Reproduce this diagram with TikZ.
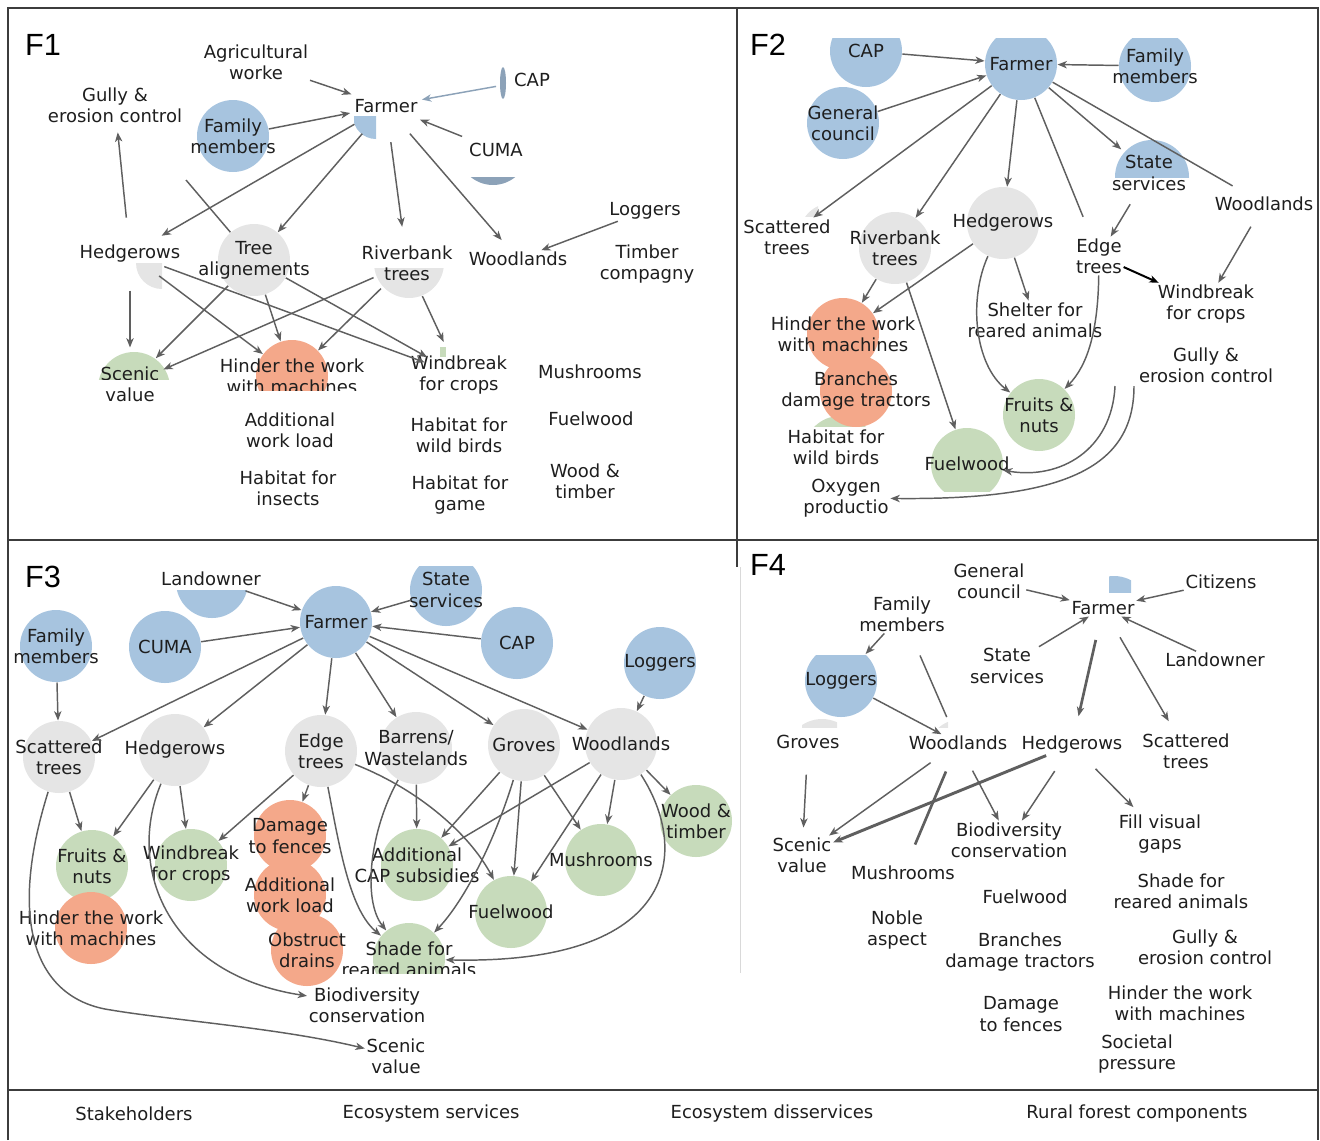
\documentclass[tikz,border=0pt]{standalone}
\usepackage{fontspec}
\setmainfont{DejaVu Sans}
\newfontfamily\panelfont{Liberation Sans}
\usetikzlibrary{arrows.meta}

\definecolor{stakec}{RGB}{167,196,223}
\definecolor{servc}{RGB}{199,219,187}
\definecolor{dservc}{RGB}{244,168,138}
\definecolor{ruralc}{RGB}{229,229,229}
\definecolor{linec}{RGB}{95,95,95}
\definecolor{capc}{RGB}{140,162,184}
\definecolor{txtc}{RGB}{30,30,30}
\definecolor{framec}{RGB}{60,60,60}

\tikzset{every picture/.style={line width=0.75pt}}
\tikzset{
  lbl/.style={font=\fontsize{13.5}{16}\selectfont, text=txtc, align=center, inner sep=1pt},
  nd/.style={circle, minimum size=54pt, inner sep=0pt, label={[lbl]center:{#1}}},
  stake/.style={nd={#1}, fill=stakec},
  serv/.style={nd={#1}, fill=servc},
  dserv/.style={nd={#1}, fill=dservc},
  rural/.style={nd={#1}, fill=ruralc},
  ring/.style={nd={#1}},
  arr/.style={draw=linec, line width=1.1pt, -{Stealth[length=7pt,width=5.5pt,inset=2pt]}},
  link/.style={draw=linec, line width=1.1pt},
  panel/.style={font=\panelfont\fontsize{23}{25}\selectfont, text=black, inner sep=0pt},
}

\begin{document}
\begin{tikzpicture}[x=0.75pt,y=0.75pt,yscale=-1,xscale=1]
\useasboundingbox (0,0) rectangle (1320,1140);

%Frame
\draw[framec, line width=1.5pt] (8,1140) -- (8,8) -- (1318,8) -- (1318,1140);
\draw[framec, line width=1.5pt] (8,540) -- (1318,540);
\draw[framec, line width=1.5pt] (8,1090) -- (1318,1090);
\draw[framec, line width=1pt] (737,8) -- (737,567);
\draw[black!15, line width=0.6pt] (740,567) -- (740,973);

%%%%%%%%%%%%%%%% F1
\node[panel] (f1lab) at (43,45) {F1};

%Shape: fragments
\begin{scope}
\clip (354,116) rectangle (376,140);
\fill[stakec] (376,116) circle (23);
\end{scope}
\fill[capc] (503,83) ellipse (3 and 16);
\begin{scope}
\clip (450,177) rectangle (540,190);
\fill[capc] (493,150) circle (35);
\end{scope}
\begin{scope}
\clip (136,263) rectangle (162,290);
\fill[ruralc] (162,263) circle (26);
\end{scope}
\begin{scope}
\clip (360,268) rectangle (450,300);
\fill[ruralc] (409,263) circle (35);
\end{scope}
\begin{scope}
\clip (98,352) rectangle (170,379);
\fill[servc] (134,388) circle (36);
\end{scope}
\fill[servc] (440,347) rectangle (446,357);

%Shape: Circle
\node[stake={Family\\members}] (f1fam) at (233,136) {};
\node[rural={Tree\\alignements}] (f1tree) at (254,260) {};
\node[ring=Farmer] (f1farmer) at (386,106) {};
\node[ring=CAP] (f1cap) at (532,80) {};
\node[ring=CUMA] (f1cuma) at (496,150) {};
\node[ring={Riverbank\\trees}] (f1river) at (407,263) {};
\node[ring=Hedgerows] (f1hedge) at (130,254) {};
\begin{scope}
\clip (60,330) rectangle (200,379) (60,383) rectangle (200,420);
\node[ring={Scenic\\value}] (f1scenic) at (130,384) {};
\end{scope}
\begin{scope}
\clip (200,320) rectangle (400,390);
\node[dserv={Hinder the work\\with machines}] (f1hinder) at (292,376) {};
\end{scope}
\node[ring={Windbreak\\for crops}] (f1wind) at (459,375) {};

% Text Node
\node[lbl] (f1agri) at (256,62) {Agricultural\\worke};
\node[lbl] (f1gully) at (115,105) {Gully \&\\erosion control};
\node[lbl] (f1wood) at (518,259) {Woodlands};
\node[lbl] (f1log) at (645,211) {Loggers};
\node[lbl] (f1timber) at (647,264) {Timber\\compagny};
\node[lbl] (f1mush) at (590,372) {Mushrooms};
\node[lbl] (f1addwl) at (290,430) {Additional\\work load};
\node[lbl] (f1birds) at (459,435) {Habitat for\\wild birds};
\node[lbl] (f1fuel) at (591,419) {Fuelwood};
\node[lbl] (f1insect) at (288,488) {Habitat for\\insects};
\node[lbl] (f1game) at (460,495) {Habitat for\\game};
\node[lbl] (f1woodt) at (585,481) {Wood \&\\timber};
\coordinate (f1stub) at (186,180);

%Straight Lines
\draw[arr] (f1agri) -- (f1farmer);
\draw[arr, draw=capc] (f1cap) -- (f1farmer);
\draw[arr] (f1cuma) -- (f1farmer);
\draw[arr] (f1fam) -- (f1farmer);
\draw[arr] (f1farmer) -- (f1hedge);
\draw[arr] (f1farmer) -- (f1tree);
\draw[arr] (f1farmer) -- (f1river);
\draw[arr, shorten >=10pt] (f1farmer) -- (f1wood);
\draw[arr] (f1log) -- (f1wood);
\draw[arr, shorten >=6pt] (f1hedge) -- (f1gully);
\draw[link] (f1tree) -- (f1stub);
\foreach \s in {hedge,tree,river}{
  \draw[arr] (f1\s) -- (f1scenic);
  \draw[arr] (f1\s) -- (f1hinder);
  \draw[arr] (f1\s) -- (f1wind);
}

%%%%%%%%%%%%%%%% F2
\node[panel] (f2lab) at (768,45) {F2};

%Shape: fragments
\begin{scope}
\clip (1100,130) rectangle (1200,177);
\fill[stakec] (1152,177) circle (37);
\end{scope}
\begin{scope}
\clip (800,410) rectangle (880,426);
\fill[servc] (840,452) circle (36);
\end{scope}
\begin{scope}
\clip (800,204) rectangle (818,216);
\fill[ruralc] (832,236) circle (33);
\end{scope}

%Shape: Circle
\begin{scope}
\clip (740,38) rectangle (1318,200);
\node[stake=CAP] (f2cap) at (866,51) {};
\node[stake=Farmer] (f2farmer) at (1021,64) {};
\node[stake={Family\\members}] (f2fam) at (1155,66) {};
\end{scope}
\node[stake={General\\council}] (f2gen) at (843,123) {};
\node[ring={State\\services}] (f2state) at (1149,173) {};
\node[rural={Riverbank\\trees}] (f2river) at (895,248) {};
\node[rural=Hedgerows] (f2hedge) at (1003,223) {};
\node[dserv={Hinder the work\\with machines}] (f2hinder) at (843,334) {};
\node[dserv={Branches\\damage tractors}] (f2branch) at (856,391) {};
\node[serv={Fruits \&\\nuts}] (f2fruit) at (1039,415) {};
\begin{scope}
\clip (900,420) rectangle (1040,491);
\node[serv=Fuelwood] (f2fuel) at (967,464) {};
\end{scope}

% Text Node
\node[lbl] (f2scat) at (787,237) {Scattered\\trees};
\node[lbl] (f2wood) at (1264,204) {Woodlands};
\node[lbl] (f2edge) at (1099,256) {Edge\\trees};
\node[lbl] (f2wind) at (1206,304) {Windbreak\\for crops};
\node[lbl] (f2shelter) at (1035,320) {Shelter for\\reared animals};
\node[lbl] (f2gully) at (1206,365) {Gully \&\\erosion control};
\node[lbl] (f2birds) at (836,447) {Habitat for\\wild birds};
\node[lbl] (f2oxy) at (846,498) {Oxygen\\productio};
\coordinate (f2s1) at (1115,386);
\coordinate (f2s2) at (1134,386);

%Straight Lines
\draw[arr] (f2cap) -- (f2farmer);
\draw[arr] (f2gen) -- (f2farmer);
\draw[arr] (f2fam) -- (f2farmer);
\draw[arr] (f2farmer) -- (f2scat);
\draw[arr] (f2farmer) -- (f2river);
\draw[arr] (f2farmer) -- (f2hedge);
\draw[link, shorten >=16pt] (f2farmer) -- (f2edge);
\draw[arr] (f2farmer) -- (f2state);
\draw[link, shorten >=14pt] (f2farmer) -- (f2wood);
\draw[arr] (f2state) -- (f2edge);
\draw[arr, shorten <=12pt] (f2wood) -- (f2wind);
\draw[arr, draw=black, line width=1.5pt] (f2edge) -- (f2wind);
\draw[arr] (f2river) -- (f2hinder);
\draw[arr] (f2hedge) -- (f2hinder);
\draw[arr] (f2river) -- (f2fuel);
\draw[arr] (f2hedge) -- (f2shelter);
%Curve Lines
\draw[arr] (f2hedge) .. controls (968,300) and (975,365) .. (f2fruit);
\draw[arr] (f2edge) .. controls (1098,330) and (1088,365) .. (f2fruit);
\draw[arr] (f2s1) .. controls (1112,450) and (1060,480) .. (f2fuel);
\draw[arr] (f2s2) .. controls (1134,470) and (1060,500) .. (f2oxy);

%%%%%%%%%%%%%%%% F3
\node[panel] (f3lab) at (43,577) {F3};

%Shape: fragments
\begin{scope}
\clip (170,590) rectangle (255,625);
\fill[stakec] (212,582) circle (36);
\end{scope}

%Shape: Circle
\node[ring=Landowner] (f3land) at (211,579) {};
\begin{scope}
\clip (400,566) rectangle (490,630);
\node[stake={State\\services}] (f3state) at (446,590) {};
\end{scope}
\node[stake=Farmer] (f3farmer) at (336,622) {};
\node[stake=CUMA] (f3cuma) at (165,647) {};
\node[stake=CAP] (f3cap) at (517,643) {};
\node[stake={Family\\members}] (f3fam) at (56,646) {};
\node[stake=Loggers] (f3log) at (660,663) {};
\node[rural={Scattered\\trees}] (f3scat) at (59,757) {};
\node[rural=Hedgerows] (f3hedge) at (175,750) {};
\node[rural={Edge\\trees}] (f3edge) at (321,751) {};
\node[rural={Barrens/\\Wastelands}] (f3barren) at (416,748) {};
\node[rural=Groves] (f3groves) at (524,745) {};
\node[rural=Woodlands] (f3wood) at (621,744) {};
\node[serv={Wood \&\\timber}] (f3woodt) at (696,821) {};
\node[serv=Mushrooms] (f3mush) at (601,860) {};
\node[serv=Fuelwood] (f3fuel) at (511,912) {};
\node[serv={Additional\\CAP subsidies}] (f3addcap) at (417,865) {};
\node[serv={Fruits \&\\nuts}] (f3fruit) at (92,866) {};
\node[serv={Windbreak\\for crops}] (f3wind) at (191,865) {};
\node[dserv={Hinder the work\\with machines}] (f3hinder) at (91,928) {};
\node[dserv={Damage\\to fences}] (f3fence) at (290,836) {};
\node[dserv={Additional\\work load}] (f3addwl) at (290,895) {};
\node[dserv={Obstruct\\drains}] (f3drain) at (307,950) {};
\begin{scope}
\clip (340,900) rectangle (480,973);
\node[serv={Shade for\\reared animals}] (f3shade) at (409,959) {};
\end{scope}

% Text Node
\node[lbl] (f3bio) at (367,1005) {Biodiversity\\conservation};
\node[lbl] (f3scenic) at (396,1056) {Scenic\\value};

%Straight Lines
\draw[arr] (f3land) -- (f3farmer);
\draw[arr] (f3state) -- (f3farmer);
\draw[arr] (f3cuma) -- (f3farmer);
\draw[arr] (f3cap) -- (f3farmer);
\draw[arr] (f3fam) -- (f3scat);
\foreach \t in {scat,hedge,edge,barren,groves,wood}
  \draw[arr] (f3farmer) -- (f3\t);
\draw[arr] (f3log) -- (f3wood);
\draw[arr] (f3scat) -- (f3fruit);
\draw[arr] (f3hedge) -- (f3fruit);
\draw[arr] (f3hedge) -- (f3wind);
\draw[arr] (f3edge) -- (f3wind);
\draw[arr] (f3edge) -- (f3fence);
\draw[arr] (f3barren) -- (f3addcap);
\draw[arr] (f3groves) -- (f3addcap);
\draw[arr] (f3groves) -- (f3fuel);
\draw[arr] (f3groves) -- (f3mush);
\draw[arr] (f3wood) -- (f3addcap);
\draw[arr] (f3wood) -- (f3fuel);
\draw[arr] (f3wood) -- (f3mush);
\draw[arr] (f3wood) -- (f3woodt);
%Curve Lines
\draw[arr] (f3scat) .. controls (5,930) and (40,1000) .. (111,1010) .. controls (170,1020) and (280,1028) .. (f3scenic);
\draw[arr] (f3hedge) .. controls (125,870) and (170,975) .. (f3bio);
\draw[arr] (f3edge) .. controls (340,850) and (350,910) .. (f3shade);
\draw[arr] (f3edge) .. controls (420,790) and (470,835) .. (f3fuel);
\draw[arr] (f3barren) .. controls (370,830) and (362,900) .. (f3shade);
\draw[arr] (f3groves) .. controls (495,840) and (465,900) .. (f3shade);
\draw[arr] (f3wood) .. controls (690,850) and (680,965) .. (f3shade);

%%%%%%%%%%%%%%%% F4
\node[panel] (f4lab) at (768,565) {F4};

%Shape: fragments
\begin{scope}
\clip (1109,570) rectangle (1131,592);
\fill[stakec] (1114,612) circle (36);
\end{scope}
\begin{scope}
\clip (802,716) rectangle (837,727);
\fill[ruralc] (822,755) circle (36);
\end{scope}
\begin{scope}
\clip (937,716) rectangle (948,727);
\fill[ruralc] (962,755) circle (36);
\end{scope}
\begin{scope}
\clip (790,655) rectangle (890,727);
\node[stake=Loggers] (f4log) at (841,681) {};
\end{scope}

% Text Node
\node[lbl] (f4gen) at (989,581) {General\\council};
\node[lbl] (f4cit) at (1221,582) {Citizens};
\node[lbl] (f4farmer) at (1103,608) {Farmer};
\node[lbl] (f4fam) at (902,614) {Family\\members};
\node[lbl] (f4state) at (1007,666) {State\\services};
\node[lbl] (f4land) at (1215,660) {Landowner};
\node[lbl] (f4groves) at (808,742) {Groves};
\node[lbl] (f4wood) at (958,743) {Woodlands};
\node[lbl] (f4hedge) at (1072,745) {Hedgerows};
\node[lbl] (f4scat) at (1186,751) {Scattered\\trees};
\node[lbl] (f4scenic) at (802,855) {Scenic\\value};
\node[lbl] (f4mush) at (903,873) {Mushrooms};
\node[lbl] (f4bio) at (1009,840) {Biodiversity\\conservation};
\node[lbl] (f4fill) at (1160,834) {Fill visual\\gaps};
\node[lbl] (f4noble) at (897,930) {Noble\\aspect};
\node[lbl] (f4fuel) at (1025,897) {Fuelwood};
\node[lbl] (f4shade) at (1181,891) {Shade for\\reared animals};
\node[lbl] (f4branch) at (1020,952) {Branches\\damage tractors};
\node[lbl] (f4gully) at (1205,947) {Gully \&\\erosion control};
\node[lbl] (f4fence) at (1021,1014) {Damage\\to fences};
\node[lbl] (f4hinder) at (1180,1003) {Hinder the work\\with machines};
\node[lbl] (f4soc) at (1137,1054) {Societal\\pressure};

%Straight Lines
\draw[arr] (f4gen) -- (f4farmer);
\draw[arr] (f4cit) -- (f4farmer);
\draw[arr] (f4state) -- (f4farmer);
\draw[arr] (f4land) -- (f4farmer);
\draw[arr, line width=2pt, shorten <=18pt, shorten >=14pt] (f4farmer) -- (f4hedge);
\draw[arr, shorten <=18pt, shorten >=9pt] (f4farmer) -- (f4scat);
\draw[arr] (f4fam) -- (f4log);
\draw[arr] (f4log) -- (f4wood);
\draw[link, shorten <=18pt, shorten >=14pt] (f4fam) -- (f4wood);
\draw[arr, shorten <=18pt, shorten >=6pt] (f4groves) -- (f4scenic);
\draw[arr, shorten <=14pt] (f4wood) -- (f4scenic);
\draw[arr, line width=2.2pt] (f4hedge) -- (f4scenic);
\draw[link, line width=2pt, shorten <=16pt, shorten >=16pt] (f4wood) -- (f4mush);
\draw[arr, shorten <=16pt] (f4wood) -- (f4bio);
\draw[arr, shorten <=14pt] (f4hedge) -- (f4bio);
\draw[arr, shorten <=14pt, shorten >=6pt] (f4hedge) -- (f4fill);

%%%%%%%%%%%%%%%% Legend
\node[lbl] (leg1) at (134,1114) {Stakeholders};
\node[lbl] (leg2) at (431,1114) {Ecosystem services};
\node[lbl] (leg3) at (772,1114) {Ecosystem disservices};
\node[lbl] (leg4) at (1137,1114) {Rural forest components};

\end{tikzpicture}
\end{document}
